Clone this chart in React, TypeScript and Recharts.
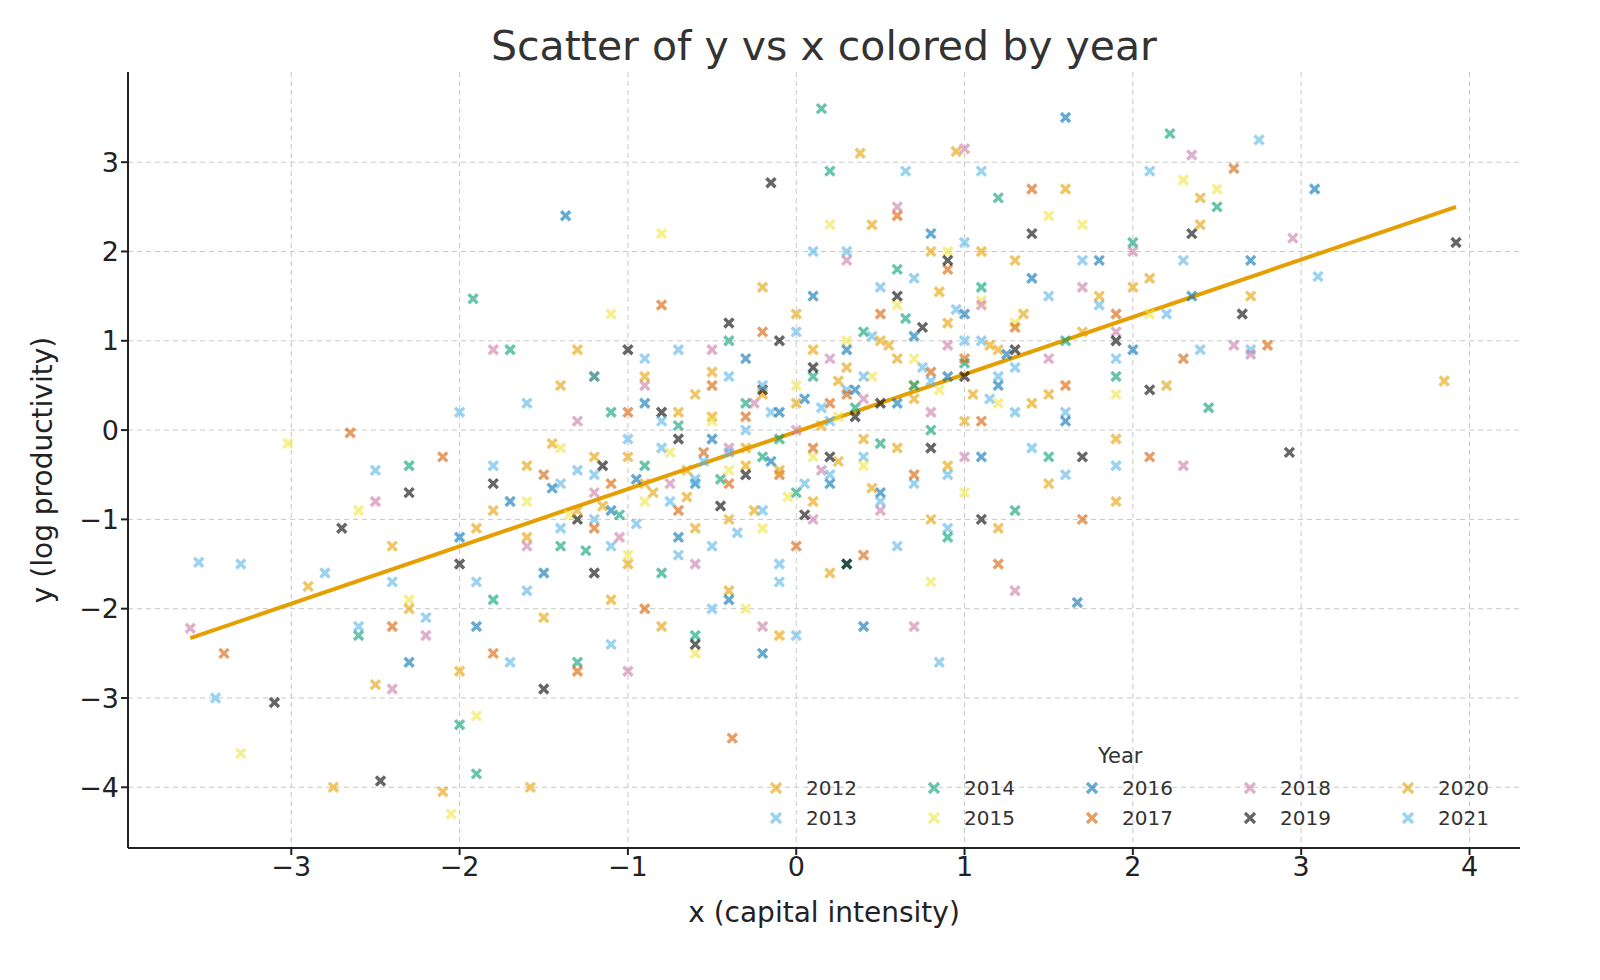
import React from "react";
import { ScatterChart, Scatter, XAxis, YAxis, CartesianGrid, ReferenceLine } from "recharts";

const years = ["2012","2013","2014","2015","2016","2017","2018","2019","2020","2021"];
const colors = ["#E69F00","#56B4E9","#009E73","#F0E442","#0072B2","#D55E00","#CC79A7","#000000","#E69F00","#56B4E9"];
const xTicks = [-3,-2,-1,0,1,2,3,4];
const yTicks = [-4,-3,-2,-1,0,1,2,3];
const lineX = [-3.6, 3.92];
const lineY = [-2.33, 2.5];

const y2012 = [[-2.75,-4.0],[-2.1,-4.05],[0.38,3.1],[-1.8,-0.9],[-1.2,-0.3],[-0.6,-1.1],[-0.2,0.4],[0.3,0.7],[0.9,1.2],[1.4,0.3],[2.0,1.6],[-1.5,-2.1],[-0.9,0.6],[0.1,-0.8],[0.6,-0.2],[1.1,2.0],[1.7,1.1],[-2.4,-1.3],[-0.4,-1.8],[0.8,-1.0],[2.4,2.6],[-1.0,-1.5],[0.0,1.3],[-0.7,0.2],[1.5,-0.6],[-2.0,-2.7],[0.45,2.3],[-1.3,0.9],[1.9,-0.8],[-0.1,-2.3],[0.7,0.5],[-1.6,-1.2],[1.2,0.9],[-0.3,-0.4],[2.2,0.5],[-0.5,0.15],[0.25,-0.35],[-0.85,-0.7],[0.55,0.95],[1.05,0.4],[-1.15,-0.85],[0.15,0.05],[-0.25,-0.9],[0.85,1.55],[-0.65,-0.45],[1.35,1.3],[-1.45,-0.15]];
const y2013 = [[-3.55,-1.48],[3.1,1.72],[-2.5,-0.45],[-1.9,-1.7],[-1.4,-0.6],[-0.8,-0.2],[-0.5,-1.3],[0.2,0.1],[0.5,1.6],[1.0,2.1],[1.3,0.7],[1.8,1.4],[2.3,1.9],[-1.1,-2.4],[-0.2,-0.9],[0.7,-0.6],[1.6,0.2],[-2.2,-2.1],[-0.7,0.9],[0.1,2.0],[0.9,-1.1],[-1.6,0.3],[2.7,0.9],[-0.1,-1.7],[1.1,1.0],[-1.2,-1.0],[0.4,-0.3],[-2.8,-1.6],[1.9,-0.4],[-0.4,0.6],[0.65,2.9],[-1.7,-2.6],[1.4,-0.2],[0.0,-2.3],[2.1,2.9],[-0.55,-0.35],[0.3,0.45],[-0.95,-1.05],[0.75,0.7],[-0.15,0.2],[1.15,0.35],[-1.3,-0.45],[0.05,-0.6],[0.95,1.35],[-0.75,-0.8],[0.45,1.05],[-0.35,-1.15]];
const y2014 = [[0.15,3.6],[2.22,3.32],[-1.92,1.47],[-1.9,-3.85],[-2.0,-3.3],[-1.4,-1.3],[-0.9,-0.4],[-0.3,0.3],[0.4,1.1],[0.8,0.0],[1.2,2.6],[1.6,1.0],[2.0,2.1],[-0.6,-2.3],[0.0,-0.7],[0.6,1.8],[1.5,-0.3],[-1.7,0.9],[-2.3,-0.4],[0.9,-1.2],[-1.1,0.2],[0.3,-1.5],[2.5,2.5],[1.1,1.6],[-0.4,1.0],[-1.3,-2.6],[0.2,2.9],[2.45,0.25],[-0.8,-1.6],[1.9,0.6],[-2.6,-2.3],[0.7,0.5],[-0.1,-0.1],[1.3,-0.9],[-1.8,-1.9],[-0.45,-0.55],[0.35,0.25],[-1.05,-0.95],[0.65,1.25],[-0.2,-0.3],[1.0,0.75],[-0.7,0.05],[0.1,0.6],[-1.25,-1.35],[0.5,-0.15]];
const y2015 = [[-3.02,-0.15],[-3.3,-3.62],[-2.05,-4.3],[-2.3,-1.9],[-1.6,-0.8],[-1.0,-1.4],[-0.5,0.1],[0.0,0.5],[0.4,-0.4],[0.9,2.0],[1.3,1.2],[1.7,2.3],[2.1,1.3],[-1.2,0.6],[-0.2,-1.1],[0.6,1.4],[1.0,-0.7],[-0.8,2.2],[-1.9,-3.2],[0.2,2.3],[1.5,2.4],[-0.6,-2.5],[2.3,2.8],[-1.4,-0.2],[0.8,-1.7],[1.9,0.4],[-0.9,-0.8],[0.3,1.0],[-2.6,-0.9],[1.2,0.3],[-0.3,-2.0],[0.7,0.8],[-1.1,1.3],[2.5,2.7],[0.1,-0.3],[-0.4,-0.45],[0.45,0.6],[-0.75,-0.25],[0.85,0.45],[-0.05,-0.75],[1.1,1.45],[-1.35,-0.95],[0.25,0.15]];
const y2016 = [[1.6,3.5],[3.08,2.7],[1.67,-1.93],[-1.37,2.4],[-2.3,-2.6],[-1.7,-0.8],[-1.1,-0.9],[-0.6,-0.6],[-0.1,0.2],[0.3,0.9],[0.8,2.2],[1.2,0.5],[1.8,1.9],[2.35,1.5],[-1.5,-1.6],[-0.4,-1.9],[0.5,-0.7],[1.0,1.3],[-0.9,0.3],[0.1,1.5],[1.4,1.7],[-2.0,-1.2],[0.6,0.3],[2.7,1.9],[-0.2,-2.5],[0.4,-2.2],[1.1,-0.3],[-1.2,0.6],[2.0,0.9],[-0.7,-1.2],[0.9,0.6],[-1.9,-2.2],[1.6,0.1],[-0.3,0.8],[0.2,-0.6],[-0.5,-0.1],[0.35,0.45],[-0.95,-0.55],[0.7,1.05],[-0.15,-0.35],[1.25,0.85],[-1.45,-0.65],[0.05,0.35]];
const y2017 = [[-2.65,-0.03],[-0.38,-3.45],[2.6,2.93],[-3.4,-2.5],[-2.1,-0.3],[-1.5,-0.5],[-0.9,-2.0],[-0.5,0.5],[0.1,-0.2],[0.5,1.3],[1.0,0.8],[1.4,2.7],[1.9,1.3],[2.8,0.95],[-1.2,-1.1],[-0.2,1.1],[0.7,-0.5],[1.2,-1.5],[-1.8,-2.5],[0.3,0.4],[0.9,1.8],[-0.7,-0.9],[1.6,0.5],[2.3,0.8],[-1.0,0.2],[0.0,-1.3],[1.7,-1.0],[-2.4,-2.2],[0.6,2.4],[-0.4,-0.6],[1.1,0.1],[2.1,-0.3],[-1.3,-2.7],[0.4,-1.4],[-0.8,1.4],[-0.55,-0.25],[0.2,0.3],[-1.1,-0.6],[0.8,0.65],[-0.1,-0.5],[1.3,1.15],[-0.3,0.15]];
const y2018 = [[-3.6,-2.22],[1.0,3.15],[2.35,3.08],[2.95,2.15],[-2.5,-0.8],[-2.2,-2.3],[-1.6,-1.3],[-1.0,-2.7],[-0.4,-0.2],[0.2,0.8],[0.6,2.5],[1.1,1.4],[1.5,0.8],[2.0,2.0],[2.6,0.95],[-1.3,0.1],[-0.6,-1.5],[0.0,0.0],[0.5,-0.9],[1.3,-1.8],[-0.9,0.5],[0.8,0.2],[2.3,-0.4],[-1.8,0.9],[0.3,1.9],[1.7,1.6],[-0.2,-2.2],[1.0,-0.3],[-2.4,-2.9],[0.7,-2.2],[-1.2,-0.7],[1.9,1.1],[-0.5,0.9],[0.1,-1.0],[2.7,0.85],[-0.75,-0.6],[0.4,0.35],[-1.05,-1.2],[0.9,0.95],[-0.25,0.3],[0.15,-0.45]];
const y2019 = [[3.92,2.1],[2.93,-0.25],[-3.1,-3.05],[-2.47,-3.93],[-0.15,2.77],[-2.7,-1.1],[-2.3,-0.7],[-1.8,-0.6],[-1.3,-1.0],[-0.8,0.2],[-0.3,-0.5],[0.1,0.7],[0.6,1.5],[1.0,0.6],[1.4,2.2],[1.9,1.0],[2.35,2.2],[-1.5,-2.9],[-0.6,-2.4],[0.3,-1.5],[0.8,-0.2],[1.3,0.9],[-1.0,0.9],[-0.1,1.0],[2.1,0.45],[2.65,1.3],[-2.0,-1.5],[0.5,0.3],[1.7,-0.3],[-0.4,1.2],[0.9,1.9],[-1.2,-1.6],[0.2,-0.3],[1.1,-1.0],[-0.7,-0.1],[-0.45,-0.85],[0.35,0.15],[-1.15,-0.4],[0.75,1.15],[-0.2,0.45],[0.05,-0.95]];
const y2020 = [[0.95,3.12],[3.85,0.55],[-1.58,-4.0],[-2.5,-2.85],[-2.9,-1.75],[-1.9,-1.1],[-1.4,0.5],[-0.9,-0.6],[-0.4,-1.0],[0.0,0.3],[0.5,1.0],[0.9,-0.4],[1.3,1.9],[1.8,1.5],[2.4,2.3],[2.7,1.5],[-1.1,-1.9],[-0.2,1.6],[0.4,-0.1],[0.8,2.0],[1.5,0.4],[-0.6,0.4],[0.2,-1.6],[1.2,-1.1],[2.1,1.7],[-2.3,-2.0],[-1.6,-0.4],[0.6,0.8],[1.6,2.7],[-0.8,-2.2],[0.1,0.9],[1.0,0.1],[-1.3,-0.9],[1.9,-0.1],[-0.3,-0.2],[-0.65,-0.75],[0.25,0.55],[-1.0,-0.3],[0.7,0.35],[-0.1,-0.45],[1.15,0.95],[-0.5,0.65],[0.45,-0.65]];
const y2021 = [[2.75,3.25],[-3.3,-1.5],[-3.45,-3.0],[-2.4,-1.7],[-2.0,0.2],[-1.6,-1.8],[-1.2,-0.5],[-0.7,-1.4],[-0.3,0.0],[0.2,-0.5],[0.7,1.7],[1.1,2.9],[1.5,1.5],[1.9,0.8],[2.4,0.9],[-0.9,0.8],[-0.1,-1.5],[0.4,0.6],[0.9,-0.5],[1.3,0.2],[-1.4,-1.1],[-0.5,-2.0],[0.0,1.1],[0.6,-1.3],[1.7,1.9],[2.2,1.3],[-1.8,-0.4],[0.3,2.0],[0.85,-2.6],[-1.0,-0.1],[1.0,1.0],[-0.2,0.5],[1.6,-0.5],[-2.6,-2.2],[0.5,-0.8],[-0.6,-0.55],[0.15,0.25],[-1.1,-1.3],[0.8,0.55],[-0.4,-0.25],[1.2,0.6],[-0.8,0.1]];
const series = [y2012,y2013,y2014,y2015,y2016,y2017,y2018,y2019,y2020,y2021];

const fmt = (v: number) => String(v).replace("-", "\u2212");

const XMark = (props: any) => {
  const { cx, cy, fill } = props;
  if (cx == null || cy == null) return null;
  const s = 4.5;
  return (
    <path d={`M${cx - s},${cy - s}L${cx + s},${cy + s}M${cx - s},${cy + s}L${cx + s},${cy - s}`}
      stroke={fill} strokeWidth={3.4} strokeOpacity={0.6} fill="none" />
  );
};

const font = "'DejaVu Sans', sans-serif";

export default function App() {
  const segment = [{ x: lineX[0], y: lineY[0] }, { x: lineX[1], y: lineY[1] }];
  return (
    <div style={{ position: "relative", width: 1560, height: 950, fontFamily: font, color: "#333" }}>
      <div style={{ position: "absolute", left: 0, width: 1632, top: 14, textAlign: "center", fontSize: 41, color: "#333" }}>
        Scatter of y vs x colored by year
      </div>
      <div style={{ position: "absolute", left: 0, width: 1632, top: 888, textAlign: "center", fontSize: 28, color: "#222" }}>
        x (capital intensity)
      </div>
      <div style={{ position: "absolute", left: 34, top: 462, transform: "translate(-50%,-50%) rotate(-90deg)", fontSize: 28, color: "#222", whiteSpace: "nowrap" }}>
        y (log productivity)
      </div>
      <ScatterChart width={1560} height={950} margin={{ top: 64, right: 48, bottom: 20, left: 20 }}>
        <CartesianGrid stroke="#c8c8c8" strokeDasharray="5 4" horizontalValues={yTicks} verticalValues={xTicks} />
        <XAxis type="number" dataKey="x" domain={[-3.97, 4.3]} ticks={xTicks} tickFormatter={fmt}
          height={90} stroke="#222" strokeWidth={2} tickSize={7}
          tick={{ fontSize: 27, fill: "#222", fontFamily: font }} allowDataOverflow />
        <YAxis type="number" dataKey="y" domain={[-4.68, 4.01]} ticks={yTicks} tickFormatter={fmt}
          width={100} stroke="#222" strokeWidth={2} tickSize={7}
          tick={{ fontSize: 27, fill: "#222", fontFamily: font }} allowDataOverflow />
        {series.map((pts, i) => (
          <Scatter key={years[i]} name={years[i]} data={pts.map(([x, y]) => ({ x, y }))}
            fill={colors[i]} shape={<XMark />} isAnimationActive={false} />
        ))}
        <ReferenceLine segment={segment} stroke="#E69F00" strokeWidth={4} ifOverflow="visible" />
      </ScatterChart>
      <div style={{ position: "absolute", left: 1090, top: 736, fontSize: 21, color: "#333" }}>Year</div>
      {years.map((yr, i) => {
        const col = Math.floor(i / 2);
        const row = i % 2;
        return (
          <div key={yr} style={{ position: "absolute", left: 758 + col * 158, top: 768 + row * 30, display: "flex", alignItems: "center", fontSize: 20, color: "#333" }}>
            <svg width={20} height={20} style={{ marginRight: 20 }}>
              <path d="M5,5L15,15M5,15L15,5" stroke={colors[i]} strokeWidth={3.2} strokeOpacity={0.6} />
            </svg>
            {yr}
          </div>
        );
      })}
    </div>
  );
}
